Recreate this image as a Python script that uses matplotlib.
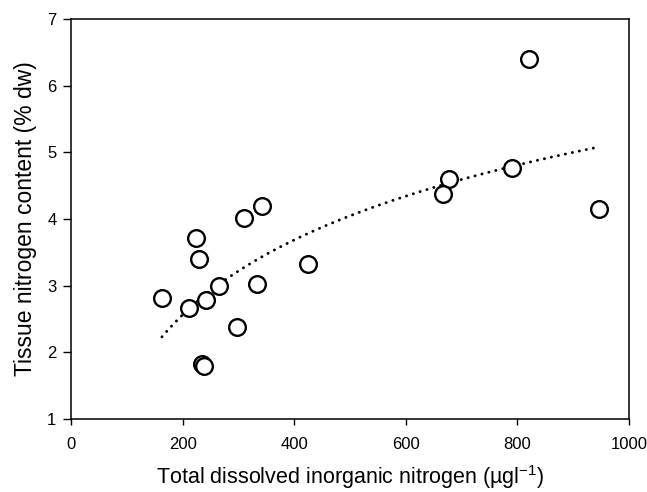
import numpy as np
import matplotlib
matplotlib.use("Agg")
import matplotlib.pyplot as plt

plt.rcParams['font.family'] = ['Liberation Sans', 'DejaVu Sans']
plt.rcParams['mathtext.fontset'] = 'custom'
plt.rcParams['mathtext.rm'] = 'Liberation Sans'
plt.rcParams['mathtext.it'] = 'Liberation Sans:italic'

# Data
din = [163, 211, 224, 229, 242, 266, 234, 239, 297, 334, 425, 310, 343, 820, 678, 666, 791, 947]
tissue_n = [2.81, 2.67, 3.72, 3.40, 2.78, 3.00, 1.82, 1.79, 2.38, 3.03, 3.33, 4.02, 4.19, 6.40, 4.60, 4.37, 4.77, 4.15]

# Logarithmic trend line (y = a*ln(x) + b), coefficients
trend_a = 1.62
trend_b = -6.02
trend_x_range = [163, 948]

x_ticks = [0, 200, 400, 600, 800, 1000]
y_ticks = [1, 2, 3, 4, 5, 6, 7]

fig = plt.figure(figsize=(6.47, 4.92), dpi=100)
ax = fig.add_axes([71/647, 1-419/492, (629-71)/647, (419-19)/492])

xt = np.linspace(trend_x_range[0], trend_x_range[1], 300)
ax.plot(xt, trend_a*np.log(xt) + trend_b, color='black', lw=2.1,
        linestyle=(0, (0.05, 2.4)), dash_capstyle='round')

ax.plot(din, tissue_n, linestyle='none', marker='o', markersize=12,
        markerfacecolor='white', markeredgecolor='black', markeredgewidth=1.7)

ax.set_xlim(0, 1000)
ax.set_ylim(1, 7)
ax.set_xticks(x_ticks)
ax.set_yticks(y_ticks)
ax.tick_params(direction='out', width=1, labelsize=12)
ax.tick_params(axis='x', length=4, pad=9)
ax.tick_params(axis='y', length=5.5, pad=5)
for s in ax.spines.values():
    s.set_linewidth(1.1)

ax.set_xlabel('Total dissolved inorganic nitrogen (µgl$^{-1}$)', fontsize=15.5, labelpad=8)
ax.set_ylabel('Tissue nitrogen content (% dw)', fontsize=16.5, labelpad=7)

fig.savefig('out.png', dpi=100)
